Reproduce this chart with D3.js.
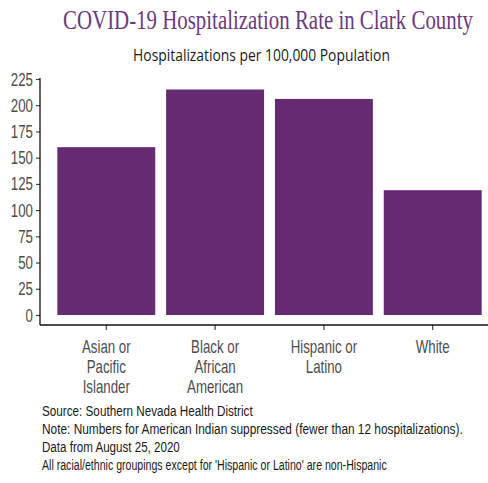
<!DOCTYPE html>
<html>
<head>
<meta charset="utf-8">
<script src="https://cdn.jsdelivr.net/npm/d3@7"></script>
<style>
  html, body { margin: 0; padding: 0; background: #fff; }
  svg { display: block; }
</style>
</head>
<body>
<script>
// Hospitalization rate per 100,000 by race/ethnicity
const categories = ["Asian or\nPacific\nIslander", "Black or\nAfrican\nAmerican", "Hispanic or\nLatino", "White"];
const rates = [160, 215, 206, 119];
const yTicks = [0, 25, 50, 75, 100, 125, 150, 175, 200, 225];
const notes = [
  "Source: Southern Nevada Health District",
  "Note: Numbers for American Indian suppressed (fewer than 12 hospitalizations).",
  "Data from August 25, 2020",
  "All racial/ethnic groupings except for 'Hispanic or Latino' are non-Hispanic"
];
const noteWidths = [211, 421, 138, 345];

const W = 488, H = 483;
const squeeze = 0.7; // tick labels are set narrow
const barColor = "#652a72";
const tickColor = "#4d4d4d";

const svg = d3.select("body").append("svg").attr("width", W).attr("height", H);

// Place a text at (x, y) and scale it horizontally to a given width
function fitText(sel, x, y, width) {
  sel.attr("x", 0).attr("y", 0);
  const natural = sel.node().getComputedTextLength();
  sel.attr("transform", `translate(${x},${y}) scale(${width / natural},1)`);
  return sel;
}

const x = d3.scaleBand().domain(categories).range([41, 498]).paddingInner(0.1).paddingOuter(0.15);
const y = d3.scaleLinear().domain([0, 225]).range([315, 79]);

// Title and subtitle
fitText(svg.append("text")
  .attr("text-anchor", "middle")
  .attr("font-family", "'Liberation Serif', serif")
  .attr("font-size", 27)
  .attr("fill", "#6b3a7e")
  .text("COVID-19 Hospitalization Rate in Clark County"), 268, 29, 410);

fitText(svg.append("text")
  .attr("text-anchor", "middle")
  .attr("font-family", "'Open Sans', sans-serif")
  .attr("font-size", 17)
  .attr("fill", "#1a1a1a")
  .text("Hospitalizations per 100,000 Population"), 261.5, 61, 257);

// Bars
svg.append("g").selectAll("rect")
  .data(categories)
  .join("rect")
  .attr("x", d => x(d))
  .attr("width", x.bandwidth())
  .attr("y", (d, i) => y(rates[i]))
  .attr("height", (d, i) => y(0) - y(rates[i]))
  .attr("fill", barColor);

// Y axis
const yAxis = svg.append("g")
  .attr("transform", "translate(40,0)")
  .call(d3.axisLeft(y).tickValues(yTicks).tickSize(4).tickPadding(3));
yAxis.select(".domain").remove();
yAxis.append("line").attr("x1", 0).attr("x2", 0).attr("y1", 78).attr("y2", 325)
  .attr("stroke", "#111").attr("stroke-width", 1.3);
yAxis.selectAll(".tick line").attr("stroke", "#333").attr("stroke-width", 1.1);
yAxis.selectAll(".tick text")
  .attr("font-family", "'Liberation Sans', Arial, sans-serif")
  .attr("font-size", 19)
  .attr("fill", tickColor)
  .attr("x", -7 / squeeze)
  .attr("transform", `scale(${squeeze},1)`);

// X axis
const xAxis = svg.append("g")
  .attr("transform", "translate(0,325)")
  .call(d3.axisBottom(x).tickSize(5).tickPadding(4));
xAxis.select(".domain").remove();
xAxis.append("line").attr("x1", 40).attr("x2", W).attr("y1", 0).attr("y2", 0)
  .attr("stroke", "#111").attr("stroke-width", 1.3);
xAxis.selectAll(".tick line").attr("stroke", "#333").attr("stroke-width", 1.1);
xAxis.selectAll(".tick text")
  .attr("font-family", "'Liberation Sans', Arial, sans-serif")
  .attr("font-size", 19)
  .attr("fill", tickColor)
  .attr("transform", `scale(${squeeze},1)`)
  .attr("y", 0).attr("dy", null)
  .each(function(d) {
    const t = d3.select(this);
    t.text(null);
    d.split("\n").forEach((line, i) => {
      t.append("tspan").attr("x", 0).attr("y", 28 + i * 20).text(line);
    });
  });

// Footnotes
const noteG = svg.append("g");
notes.forEach((d, i) => {
  fitText(noteG.append("text")
    .attr("font-family", "'Liberation Sans', Arial, sans-serif")
    .attr("font-size", 15.5)
    .attr("fill", "#1a1a1a")
    .text(d), 42, 416 + i * 18, noteWidths[i]);
});
</script>
</body>
</html>
